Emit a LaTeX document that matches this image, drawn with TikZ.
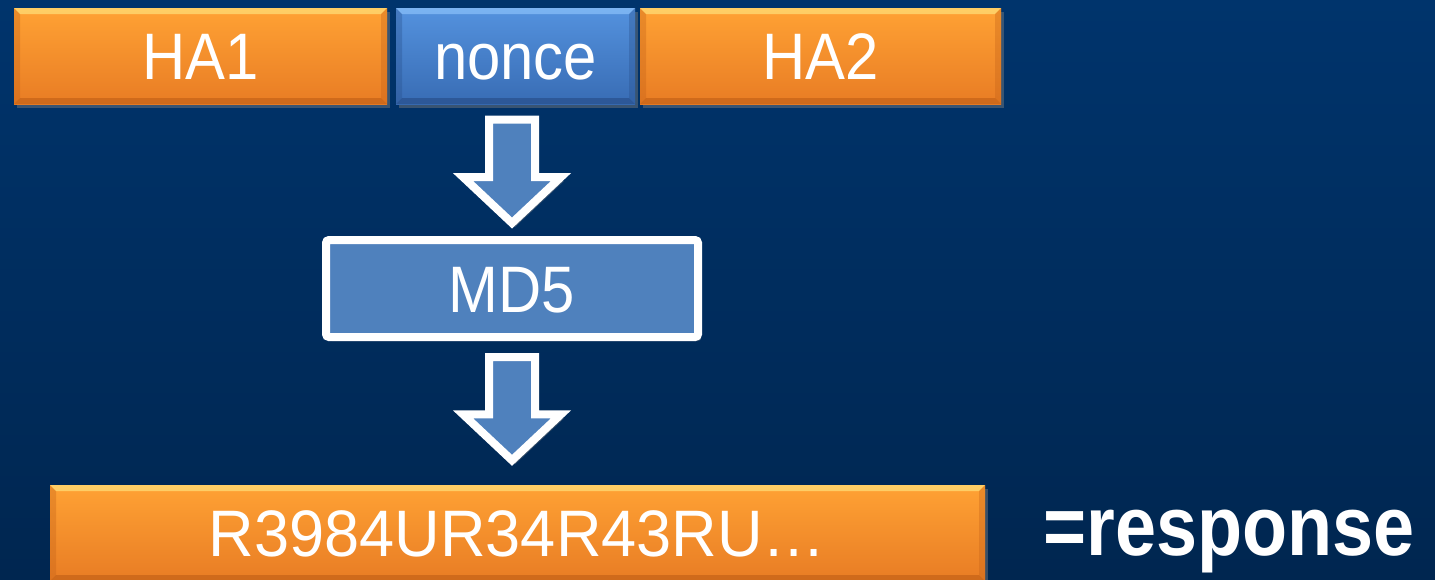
\documentclass[tikz,border=0pt]{standalone}
\usepackage{fontspec}
\setmainfont[FakeStretch=0.91]{Liberation Sans}
\newfontfamily\wideresult[FakeStretch=0.96]{Liberation Sans}
\newfontfamily\respfont[FakeStretch=0.875]{Liberation Sans}
\usetikzlibrary{calc,shadows}

\definecolor{bgTop}{RGB}{0,52,108}
\definecolor{bgBot}{RGB}{0,38,80}
\definecolor{orTop}{RGB}{255,162,52}
\definecolor{orMid}{RGB}{250,145,42}
\definecolor{orBot}{RGB}{232,124,36}
\definecolor{orHi}{RGB}{255,214,110}
\definecolor{orLo}{RGB}{196,98,24}
\definecolor{blTop}{RGB}{84,146,222}
\definecolor{blBot}{RGB}{56,108,180}
\definecolor{blHi}{RGB}{130,185,245}
\definecolor{blLo}{RGB}{40,80,140}
\definecolor{mdBlue}{RGB}{79,129,189}

\tikzset{
  boxtext/.style={font=\fontsize{18.7pt}{20pt}\selectfont, text=white,
    text height=0.47cm, text depth=0cm, inner sep=0pt},
  bevel/.style 2 args={path picture={
    \fill[#1, opacity=0.85]
      (path picture bounding box.north west) -- (path picture bounding box.north east)
      -- ++(-0.06,-0.06) -- ($(path picture bounding box.north west)+(0.06,-0.06)$) -- cycle;
    \fill[#2, opacity=0.7]
      (path picture bounding box.south west) -- (path picture bounding box.south east)
      -- ++(-0.06,0.06) -- ($(path picture bounding box.south west)+(0.06,0.06)$) -- cycle;
    \fill[#2, opacity=0.35]
      (path picture bounding box.north west) -- ++(0.06,-0.06)
      -- ($(path picture bounding box.south west)+(0.06,0.06)$) -- (path picture bounding box.south west) -- cycle;
    \fill[#2, opacity=0.35]
      (path picture bounding box.north east) -- ++(-0.06,-0.06)
      -- ($(path picture bounding box.south east)+(-0.06,0.06)$) -- (path picture bounding box.south east) -- cycle;
  }},
  boxshadow/.style={drop shadow={opacity=0.45, shadow xshift=0.03cm, shadow yshift=-0.04cm}},
  orangebox/.style={boxtext, rectangle, minimum height=0.96cm,
    top color=orTop, middle color=orMid, bottom color=orBot, boxshadow, bevel={orHi}{orLo}},
  bluebox/.style={boxtext, rectangle, minimum height=0.96cm,
    top color=blTop, bottom color=blBot, boxshadow, bevel={blHi}{blLo}},
  hashbox/.style={boxtext, rectangle, rounded corners=0.03cm, fill=mdBlue, draw=white,
    line width=0.08cm, boxshadow},
  blockarrow/.style={fill=mdBlue, draw=white, line width=0.08cm, line join=miter,
    drop shadow={opacity=0.45, shadow xshift=0.03cm, shadow yshift=-0.04cm}},
}

\begin{document}
\begin{tikzpicture}
  % background
  \shade[top color=bgTop, bottom color=bgBot] (0,0) rectangle (14.35,-5.79);
  \useasboundingbox (0,0) rectangle (14.35,-5.79);

  % inputs
  \node[orangebox, minimum width=3.73cm] (ha1) at (2.005,-0.56) {HA1};
  \node[bluebox, minimum width=2.39cm] (nonce) at (5.155,-0.56) {nonce};
  \node[orangebox, minimum width=3.61cm] (ha2) at (8.205,-0.56) {HA2};

  % hash function
  \node[hashbox, minimum width=3.72cm, minimum height=0.97cm] (md5) at (5.12,-2.885) {MD5};

  % result
  \node[orangebox, minimum width=9.35cm, font=\wideresult\fontsize{18.7pt}{20pt}\selectfont]
    (resp) at (5.175,-5.33) {R3984UR34R43RU…};
  \node[anchor=base west, inner sep=0pt, text=white,
        font=\respfont\bfseries\fontsize{24pt}{26pt}\selectfont] (resplabel) at (10.43,-5.55) {=response};

  % block arrows
  \path (md5.north |- nonce.south) ++(0,-0.15) coordinate (a1s);
  \path (md5.north) ++(0,0.13) coordinate (a1e);
  \path (md5.south) ++(0,-0.16) coordinate (a2s);
  \path (resp.north -| md5.north) ++(0,0.24) coordinate (a2e);
  \foreach \s/\e in {a1s/a1e, a2s/a2e}{
    \draw[blockarrow] ($(\s)+(-0.23,0)$) -- ($(\s)+(0.23,0)$) -- ($(\e)+(0.23,0.46)$)
      -- ($(\e)+(0.49,0.46)$) -- (\e) -- ($(\e)+(-0.49,0.46)$) -- ($(\e)+(-0.23,0.46)$) -- cycle;
  }
\end{tikzpicture}
\end{document}
